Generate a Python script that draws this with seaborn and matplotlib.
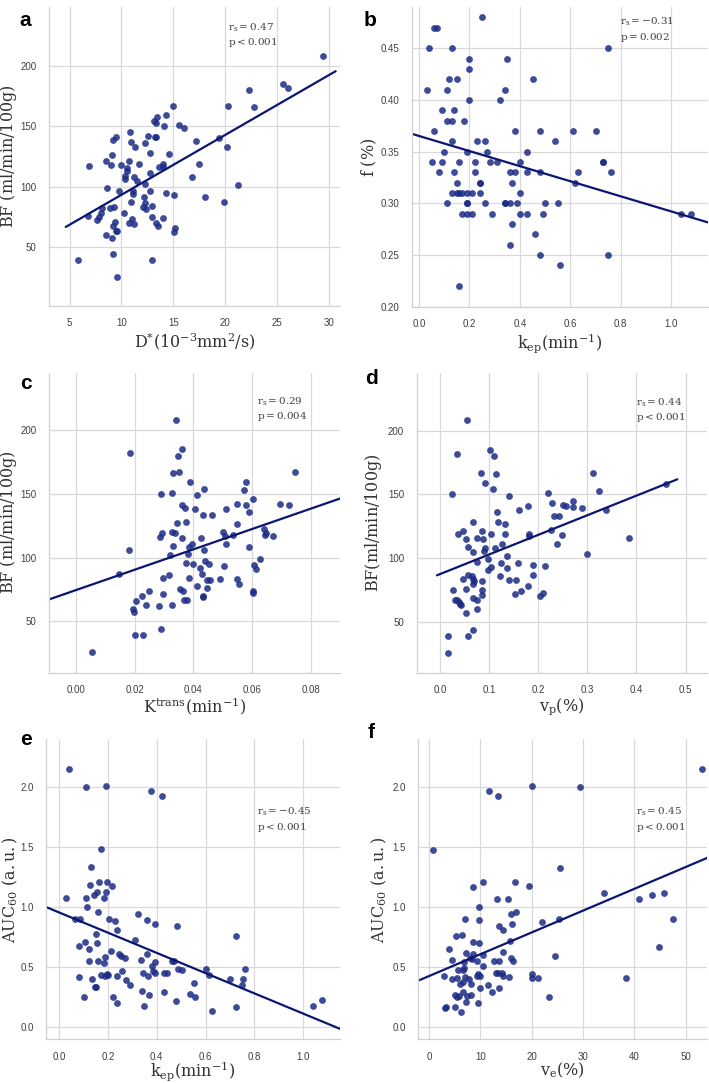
import matplotlib
matplotlib.use('Agg')
import matplotlib.pyplot as plt
import seaborn as sns

# ---- panel a: D* vs BF
a_dstar = [5.8, 6.9, 6.8, 7.6, 7.8, 8.0, 8.1, 8.5, 8.6, 8.5,
           9.0, 9.1, 9.2, 9.5, 8.9, 9.3, 9.4, 9.2, 9.5, 9.6,
           9.1, 9.2, 9.6, 9.8, 10.0, 10.2, 10.3, 10.35, 10.5, 10.5,
           10.7, 10.8, 10.7, 10.95, 10.95, 11.0, 11.1, 11.1, 11.2, 11.3,
           11.2, 11.5, 11.7, 12.1, 12.2, 12.3, 12.3, 12.3, 12.35, 12.6,
           12.8, 12.8, 12.8, 12.9, 12.9, 12.95, 13.1, 13.2, 13.3, 13.3,
           13.4, 13.3, 13.5, 13.65, 14.0, 14.0, 14.0, 14.1, 14.3, 14.3,
           14.6, 15.0, 15.1, 15.2, 15.1, 15.6, 16.0, 16.8, 17.2, 17.5,
           18.1, 19.4, 19.9, 20.2, 20.3, 21.3, 22.3, 22.8, 25.6, 26.1, 29.5]
a_bf = [39, 117, 76, 72, 75, 78, 82, 121, 99, 60,
        118, 126, 139, 141, 82, 83, 71, 67, 63, 63,
        57, 44, 25, 96, 118, 78, 109, 106, 115, 113,
        121, 145, 70, 137, 87, 73, 96, 94, 69, 133,
        108, 105, 119, 83, 91, 102, 136, 86, 81, 142,
        128, 96, 111, 75, 39, 84, 154, 141, 141, 70,
        158, 153, 67, 116, 119, 116, 74, 150, 159, 95,
        127, 167, 93, 66, 62, 151, 149, 108, 138, 119,
        91, 140, 87, 133, 167, 101, 180, 166, 185, 182, 208]

# ---- panel b: kep vs f
b_kep = [0.03, 0.04, 0.05, 0.06, 0.07, 0.06, 0.08, 0.09, 0.09, 0.10,
         0.11, 0.11, 0.11, 0.12, 0.13, 0.13, 0.13, 0.13, 0.14, 0.14,
         0.15, 0.15, 0.15, 0.16, 0.16, 0.16, 0.17, 0.17, 0.18, 0.19,
         0.19, 0.19, 0.19, 0.19, 0.20, 0.20, 0.20, 0.21, 0.21, 0.22,
         0.22, 0.23, 0.24, 0.24, 0.24, 0.25, 0.26, 0.26, 0.27, 0.28,
         0.29, 0.31, 0.32, 0.34, 0.34, 0.34, 0.35, 0.36, 0.36, 0.36,
         0.37, 0.37, 0.38, 0.38, 0.39, 0.40, 0.40, 0.40, 0.43, 0.43,
         0.43, 0.45, 0.46, 0.48, 0.48, 0.48, 0.49, 0.50, 0.54, 0.55,
         0.56, 0.61, 0.62, 0.63, 0.70, 0.73, 0.73, 0.75, 0.75, 0.76,
         1.04, 1.08]
b_f = [0.41, 0.45, 0.34, 0.47, 0.47, 0.37, 0.33, 0.39, 0.34, 0.35,
       0.41, 0.38, 0.30, 0.42, 0.45, 0.38, 0.36, 0.31, 0.39, 0.33,
       0.42, 0.32, 0.31, 0.34, 0.31, 0.22, 0.29, 0.31, 0.38, 0.35,
       0.30, 0.30, 0.29, 0.31, 0.44, 0.43, 0.40, 0.31, 0.29, 0.34,
       0.33, 0.36, 0.32, 0.32, 0.31, 0.48, 0.36, 0.30, 0.35, 0.34,
       0.29, 0.34, 0.40, 0.41, 0.30, 0.30, 0.44, 0.33, 0.30, 0.26,
       0.32, 0.28, 0.37, 0.33, 0.30, 0.34, 0.31, 0.29, 0.35, 0.33,
       0.29, 0.42, 0.27, 0.37, 0.33, 0.25, 0.29, 0.30, 0.36, 0.30,
       0.24, 0.37, 0.32, 0.33, 0.37, 0.34, 0.34, 0.45, 0.25, 0.33,
       0.29, 0.29]

# ---- panel c: Ktrans vs BF
c_ktrans = [0.0054, 0.0145, 0.018, 0.0183, 0.0193, 0.0199, 0.020, 0.0205, 0.0224, 0.0228,
            0.024, 0.025, 0.0284, 0.0286, 0.0292, 0.0289, 0.0289, 0.0297, 0.0298, 0.0318,
            0.032, 0.0326, 0.0328, 0.0328, 0.033, 0.0331, 0.0336, 0.0339, 0.0345, 0.0348,
            0.035, 0.0354, 0.036, 0.036, 0.036, 0.0364, 0.037, 0.0369, 0.0374, 0.0374,
            0.0379, 0.038, 0.0384, 0.0386, 0.0388, 0.0394, 0.0398, 0.0404, 0.0413, 0.0413,
            0.0424, 0.0427, 0.043, 0.0432, 0.0431, 0.0432, 0.0436, 0.0437, 0.0438, 0.0445,
            0.0446, 0.0454, 0.0457, 0.0463, 0.0491, 0.0502, 0.0505, 0.0506, 0.051, 0.051,
            0.0536, 0.055, 0.055, 0.055, 0.0556, 0.0573, 0.058, 0.0578, 0.059, 0.059,
            0.0603, 0.0604, 0.0604, 0.0605, 0.0614, 0.0627, 0.064, 0.0643, 0.0648, 0.0672,
            0.0696, 0.0725, 0.0745]
c_bf = [26, 87, 106, 182, 60, 57, 39, 66, 70, 39,
        63, 74, 62, 116, 119, 150, 44, 84, 71, 86,
        102, 63, 151, 120, 166, 109, 119, 208, 127, 180,
        167, 75, 115, 185, 141, 74, 139, 67, 128, 96,
        67, 103, 84, 108, 159, 111, 95, 138, 78, 149,
        92, 115, 87, 133, 70, 69, 154, 106, 97, 76,
        82, 95, 82, 133, 83, 120, 93, 117, 138, 111,
        118, 142, 126, 83, 79, 153, 159, 141, 136, 108,
        74, 146, 72, 94, 91, 99, 122, 118, 119, 117,
        142, 141, 167]

# ---- panel d: vp vs BF
d_vp = [0.016, 0.017, 0.025, 0.027, 0.031, 0.035, 0.037, 0.035, 0.039, 0.041,
        0.043, 0.046, 0.046, 0.052, 0.053, 0.054, 0.056, 0.056, 0.057, 0.053,
        0.065, 0.067, 0.067, 0.067, 0.068, 0.067, 0.069, 0.068, 0.075, 0.075,
        0.076, 0.076, 0.084, 0.085, 0.086, 0.085, 0.086, 0.087, 0.090, 0.091,
        0.092, 0.097, 0.097, 0.102, 0.103, 0.103, 0.107, 0.110, 0.112, 0.113,
        0.116, 0.119, 0.126, 0.123, 0.125, 0.133, 0.133, 0.136, 0.137, 0.141,
        0.141, 0.154, 0.152, 0.158, 0.160, 0.164, 0.180, 0.179, 0.182, 0.181,
        0.190, 0.190, 0.203, 0.209, 0.214, 0.220, 0.225, 0.227, 0.232, 0.238,
        0.242, 0.250, 0.249, 0.257, 0.271, 0.271, 0.289, 0.299, 0.312, 0.323,
        0.338, 0.384, 0.461]
d_bf = [39, 26, 150, 75, 67, 182, 119, 67, 66, 64,
        63, 121, 84, 57, 115, 208, 39, 109, 87, 76,
        86, 128, 105, 84, 80, 69, 82, 44, 116, 97,
        67, 60, 167, 121, 82, 75, 71, 115, 106, 159,
        108, 91, 99, 185, 119, 93, 154, 180, 108, 166,
        136, 128, 111, 86, 96, 119, 127, 102, 92, 149,
        83, 83, 72, 96, 138, 74, 78, 141, 119, 117,
        95, 87, 70, 73, 94, 151, 122, 143, 133, 111,
        133, 142, 118, 141, 145, 140, 139, 103, 167, 153,
        138, 116, 158]

# ---- panel e: kep vs AUC60
e_kep = [0.030, 0.042, 0.065, 0.082, 0.083, 0.087, 0.101, 0.105, 0.109, 0.110,
         0.115, 0.123, 0.124, 0.127, 0.131, 0.135, 0.142, 0.147, 0.153, 0.153,
         0.155, 0.155, 0.158, 0.161, 0.164, 0.172, 0.172, 0.186, 0.186, 0.187,
         0.190, 0.192, 0.192, 0.195, 0.195, 0.199, 0.205, 0.211, 0.217, 0.220,
         0.228, 0.236, 0.239, 0.239, 0.244, 0.255, 0.256, 0.270, 0.274, 0.289,
         0.311, 0.323, 0.337, 0.341, 0.342, 0.349, 0.360, 0.362, 0.364, 0.368,
         0.375, 0.379, 0.385, 0.393, 0.394, 0.394, 0.423, 0.430, 0.431, 0.443,
         0.462, 0.472, 0.479, 0.483, 0.488, 0.502, 0.536, 0.553, 0.557, 0.602,
         0.615, 0.625, 0.700, 0.724, 0.726, 0.750, 0.752, 0.760, 1.041, 1.078]
e_auc = [1.07, 2.15, 0.90, 0.67, 0.41, 0.90, 0.25, 0.71, 1.07, 2.00,
         1.00, 0.65, 0.55, 1.18, 1.33, 0.40, 1.10, 0.33, 0.33, 0.77,
         1.12, 0.70, 0.55, 0.96, 1.21, 1.48, 0.43, 1.07, 0.53, 0.42,
         0.58, 1.12, 2.01, 1.21, 0.44, 0.43, 0.90, 0.63, 1.17, 0.25,
         0.88, 0.81, 0.20, 0.42, 0.61, 0.59, 0.46, 0.57, 0.39, 0.35,
         0.72, 0.94, 0.56, 0.30, 0.45, 0.17, 0.61, 0.89, 0.42, 0.26,
         1.97, 0.51, 0.46, 0.86, 0.54, 0.45, 1.93, 0.29, 0.45, 0.45,
         0.55, 0.55, 0.21, 0.84, 0.48, 0.47, 0.27, 0.36, 0.25, 0.48,
         0.43, 0.13, 0.40, 0.16, 0.76, 0.35, 0.40, 0.48, 0.17, 0.22]

# ---- panel f: ve vs AUC60
f_ve = [0.8, 2.9, 3.1, 3.4, 3.9, 4.5, 4.5, 5.1, 5.3, 5.1,
        5.5, 5.5, 5.8, 6.1, 6.2, 6.4, 6.6, 6.7, 6.8, 6.9,
        7.0, 7.1, 7.2, 7.3, 7.4, 7.7, 7.9, 8.1, 8.1, 8.4,
        8.5, 8.6, 8.6, 9.3, 9.4, 9.5, 9.6, 9.7, 9.7, 9.8,
        9.9, 9.9, 10.5, 10.5, 10.6, 11.4, 11.75, 12.3, 12.6, 13.1,
        13.2, 13.5, 13.5, 13.6, 13.7, 13.7, 14.3, 14.35, 14.35, 14.5,
        15.3, 15.6, 15.8, 16.0, 16.0, 16.2, 16.3, 16.8, 16.9, 19.5,
        20.1, 20.1, 20.1, 21.2, 22.0, 23.4, 24.5, 25.3, 25.6, 29.5,
        34.1, 38.3, 40.9, 43.4, 44.7, 45.8, 47.5, 53.2, 5.6, 6.7]
f_auc = [1.48, 0.43, 0.16, 0.17, 0.65, 0.56, 0.40, 0.27, 0.76, 0.17,
         0.25, 0.41, 0.26, 0.36, 0.13, 0.77, 0.29, 0.48, 0.54, 0.49,
         0.90, 0.42, 0.21, 0.62, 0.26, 0.40, 0.58, 0.36, 0.27, 0.57,
         1.17, 0.61, 0.71, 0.43, 0.55, 0.20, 0.44, 1.00, 0.70, 0.89,
         0.43, 0.33, 0.60, 0.51, 1.21, 0.35, 1.97, 0.29, 0.55, 0.45,
         1.07, 1.93, 0.45, 0.33, 0.84, 0.55, 0.45, 0.43, 0.63, 0.81,
         1.07, 0.42, 0.72, 0.94, 0.58, 0.86, 0.55, 1.21, 0.96, 1.18,
         0.44, 0.41, 2.01, 0.41, 0.88, 0.25, 0.59, 0.90, 1.33, 2.00,
         1.12, 0.41, 1.07, 1.10, 0.67, 1.12, 0.90, 2.15, 0.48, 0.38]

stats = {
    'a': (r'$\mathrm{r_s = 0.47}$', r'$\mathrm{p < 0.001}$'),
    'b': (r'$\mathrm{r_s = -0.31}$', r'$\mathrm{p = 0.002}$'),
    'c': (r'$\mathrm{r_s = 0.29}$', r'$\mathrm{p = 0.004}$'),
    'd': (r'$\mathrm{r_s = 0.44}$', r'$\mathrm{p < 0.001}$'),
    'e': (r'$\mathrm{r_s = -0.45}$', r'$\mathrm{p < 0.001}$'),
    'f': (r'$\mathrm{r_s = 0.45}$', r'$\mathrm{p < 0.001}$'),
}

sns.set_theme(style='whitegrid')
plt.rcParams['font.family'] = ['Liberation Sans', 'DejaVu Sans']
plt.rcParams['mathtext.fontset'] = 'dejavuserif'

DOT = '#1c2c85'
LINE = '#0a1670'

fig = plt.figure(figsize=(7.09, 10.83), dpi=100)

# letter, x, y, rect, xlim, ylim, xlabel, ylabel, stats pos, letter pos,
# xlabel top (axes frac), ylabel right edge (axes frac), line spans whole axes
panels = [
    ('a', a_dstar, a_bf, [0.0691, 0.7175, 0.4104, 0.2761], (3.0, 31.1), (1, 249),
     r'$\mathrm{D^{*}(10^{-3}mm^{2}/s)}$', r'$\mathrm{BF\ (ml/min/100g)}$',
     (0.615, 0.93), (0.028, 0.99), -0.083, -0.103, False),
    ('b', b_kep, b_f, [0.5807, 0.7168, 0.4179, 0.2767], (-0.029, 1.146), (0.20, 0.49),
     r'$\mathrm{k_{ep}(min^{-1})}$', r'$\mathrm{f\ (\%)}$',
     (0.703, 0.95), (0.513, 0.99), -0.084, -0.11, True),
    ('c', c_ktrans, c_bf, [0.0695, 0.3789, 0.4100, 0.2770], (-0.0091, 0.0899), (9.7, 245),
     r'$\mathrm{K^{trans}(min^{-1})}$', r'$\mathrm{BF\ (ml/min/100g)}$',
     (0.713, 0.903), (0.028, 0.655), -0.077, -0.104, True),
    ('d', d_vp, d_bf, [0.5877, 0.3789, 0.4090, 0.2770], (-0.0476, 0.543), (10.2, 245.5),
     r'$\mathrm{v_{p}(\%)}$', r'$\mathrm{BF(ml/min/100g)}$',
     (0.756, 0.901), (0.515, 0.659), -0.077, -0.112, False),
    ('e', e_kep, e_auc, [0.0649, 0.0404, 0.4147, 0.2770], (-0.053, 1.15), (-0.106, 2.40),
     r'$\mathrm{k_{ep}(min^{-1})}$', r'$\mathrm{AUC_{60}\ (a.u.)}$',
     (0.717, 0.757), (0.028, 0.326), -0.069, -0.09, True),
    ('f', f_ve, f_auc, [0.5900, 0.0404, 0.4076, 0.2770], (-2.08, 54.2), (-0.1, 2.4),
     r'$\mathrm{v_{e}(\%)}$', r'$\mathrm{AUC_{60}\ (a.u.)}$',
     (0.753, 0.757), (0.518, 0.332), -0.072, -0.100, True),
]

for (letter, xs, ys, rect, xlim, ylim, xlab, ylab, spos, lpos,
     xlab_y, ylab_x, full_line) in panels:
    ax = fig.add_axes(rect)
    if full_line:
        ax.set_xlim(*xlim)
        ax.set_ylim(*ylim)
    sns.regplot(x=xs, y=ys, ax=ax, ci=None, truncate=False, color=DOT,
                scatter_kws=dict(s=24, alpha=0.85, linewidths=0),
                line_kws=dict(lw=1.6, color=LINE))
    ax.set_xlim(*xlim)
    ax.set_ylim(*ylim)
    ax.set_xlabel(xlab, fontsize=11.5, color='.2')
    ax.set_ylabel(ylab, fontsize=11.5, color='.2')
    ax.xaxis.set_label_coords(0.5, xlab_y)
    ax.yaxis.set_label_coords(ylab_x, 0.5)
    ax.tick_params(labelsize=7, pad=3, colors='.25')
    ax.grid(color='.85', lw=0.9)
    sns.despine(ax=ax)
    for sp in ('left', 'bottom'):
        ax.spines[sp].set_color('.82')
        ax.spines[sp].set_linewidth(0.9)
    r_txt, p_txt = stats[letter]
    ax.text(spos[0], spos[1], r_txt, transform=ax.transAxes, fontsize=7.5,
            color='.25', ha='left', va='center')
    ax.text(spos[0], spos[1] - 0.05, p_txt, transform=ax.transAxes, fontsize=7.5,
            color='.25', ha='left', va='center')
    fig.text(lpos[0], lpos[1], letter, fontsize=15, fontweight='bold',
             color='black', ha='left', va='top')

fig.savefig('out.png', dpi=100)
